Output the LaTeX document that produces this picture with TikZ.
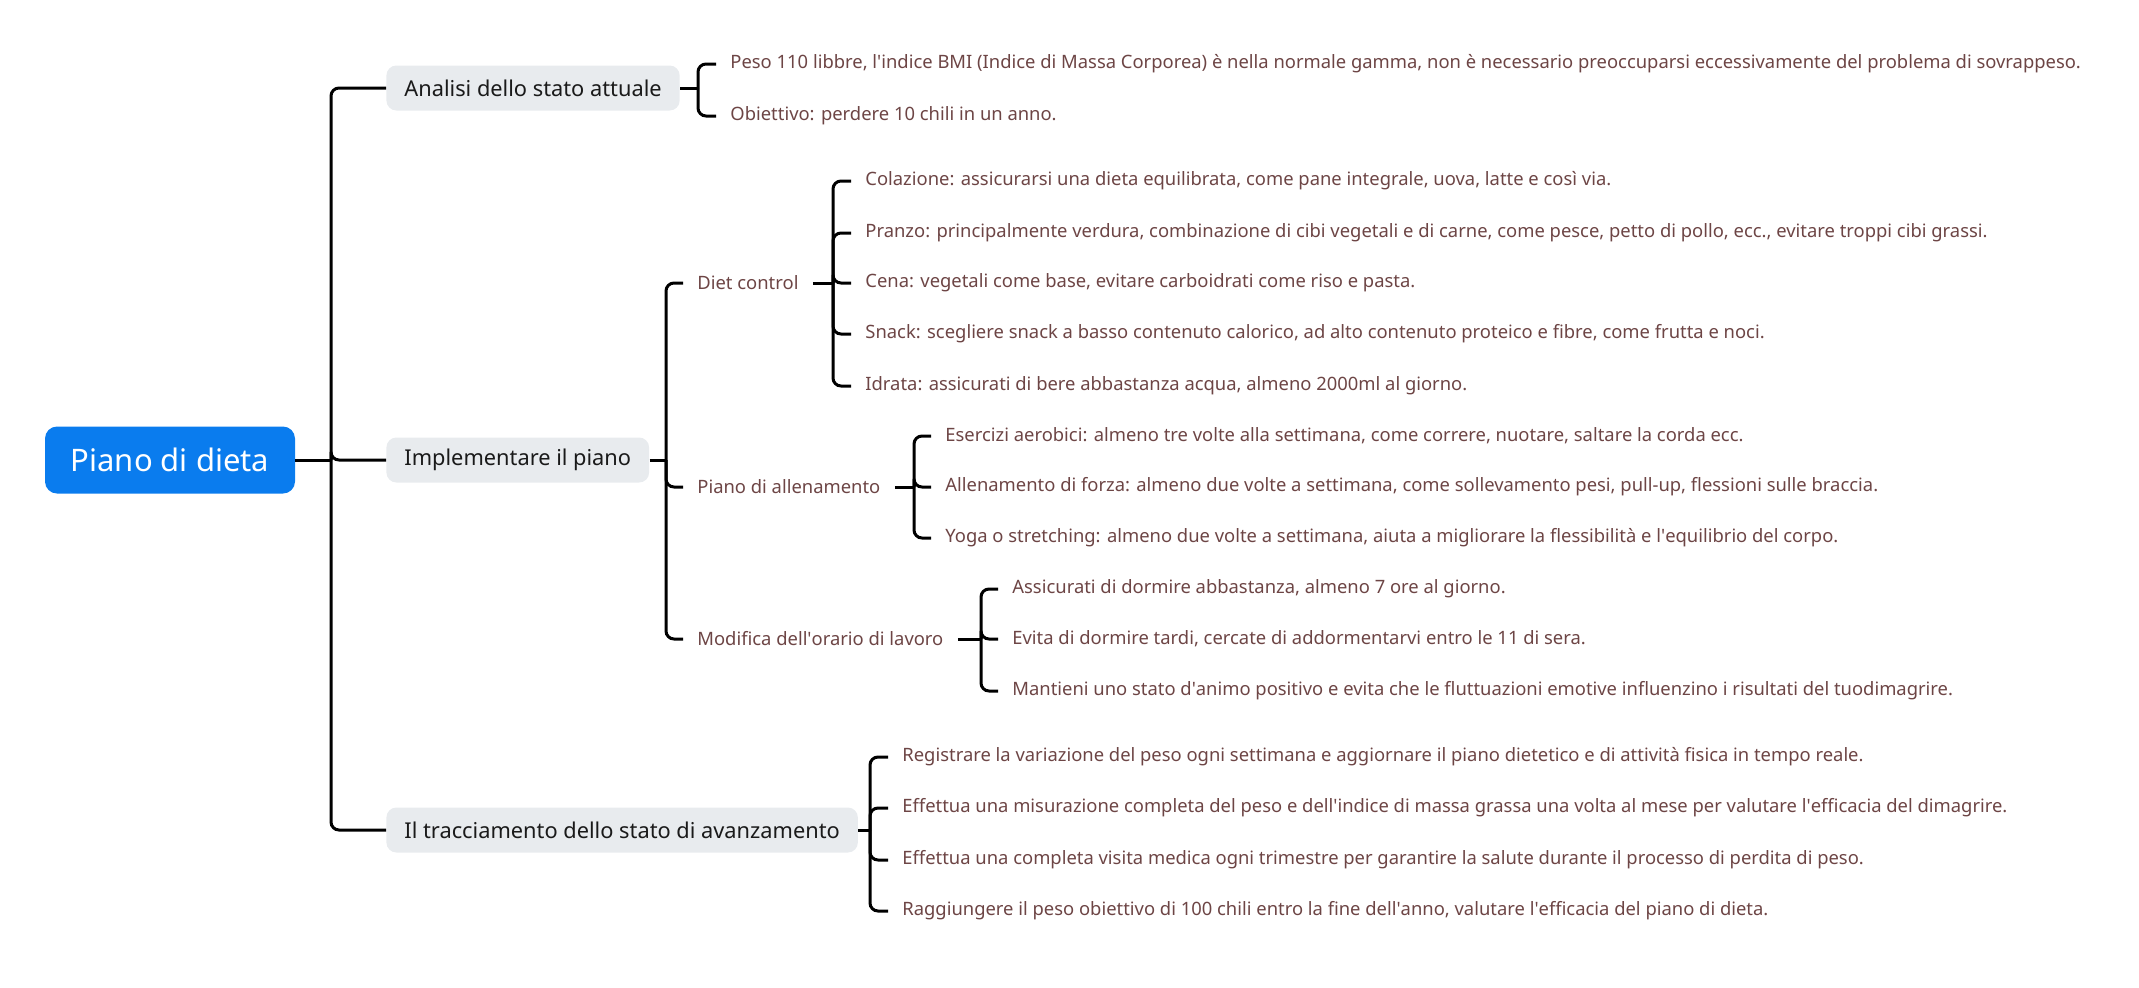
\documentclass[tikz,border=0pt]{standalone}
\usepackage{fontspec}
\setmainfont{Noto Sans}
\definecolor{rootblue}{HTML}{0A7CEE}
\definecolor{boxgray}{HTML}{E8EBEE}
\definecolor{leaftext}{HTML}{6D4545}
\definecolor{maintext}{HTML}{1A1A1A}
\newcommand{\ap}{\textquotesingle}
\begin{document}
\begin{tikzpicture}[x=0.5pt,y=-0.5pt,
  rootbox/.style={fill=rootblue,text=white,rounded corners=6pt,minimum width=125pt,minimum height=33.5pt,inner sep=0pt,font=\fontsize{15.5pt}{18pt}\selectfont},
  topicbox/.style={fill=boxgray,text=maintext,rounded corners=5pt,anchor=west,minimum height=22.5pt,inner xsep=9pt,inner ysep=0pt,font=\fontsize{10.9pt}{13pt}\selectfont},
  leaf/.style={anchor=west,text=leaftext,inner xsep=7pt,inner ysep=2pt,font=\fontsize{9.2pt}{11pt}\selectfont},
  conn/.style={draw=black,line width=1.5pt},
  elbow/.style={conn,rounded corners=4pt}
]
\useasboundingbox (0,0) rectangle (2139,987);

% root
\node[rootbox] (root) at (170,460) {Piano di dieta};

% level 1
\node[topicbox] (a1) at (386,88) {Analisi dello stato attuale};
\node[topicbox] (a2) at (386,460) {Implementare il piano};
\node[topicbox] (a3) at (386,830) {Il tracciamento dello stato di avanzamento};

\coordinate (s) at (331,460);
\draw[conn] (root.east) -- (s);
\draw[elbow] (s) |- (a1.west);
\draw[elbow] (s) |- (a2.west);
\draw[elbow] (s) |- (a3.west);

% Analisi
\node[leaf] (a11) at (716,64) {Peso 110 libbre, l\ap indice BMI (Indice di Massa Corporea) è nella normale gamma, non è necessario preoccuparsi eccessivamente del problema di sovrappeso.};
\node[leaf] (a12) at (716,116) {Obiettivo: perdere 10 chili in un anno.};
\coordinate (b1) at (698,88);
\draw[conn] (a1.east) -- (b1);
\draw[elbow] (b1) |- (a11.west);
\draw[elbow] (b1) |- (a12.west);

% Implementare
\node[leaf] (d) at (683,283) {Diet control};
\node[leaf] (p) at (683,487) {Piano di allenamento};
\node[leaf] (m) at (683,639) {Modifica dell\ap orario di lavoro};
\coordinate (b2) at (666,460);
\draw[conn] (a2.east) -- (b2);
\draw[elbow] (b2) |- (d.west);
\draw[elbow] (b2) |- (p.west);
\draw[elbow] (b2) |- (m.west);

% Diet control
\node[leaf] (d1) at (851,181) {Colazione: assicurarsi una dieta equilibrata, come pane integrale, uova, latte e così via.};
\node[leaf] (d2) at (851,233) {Pranzo: principalmente verdura, combinazione di cibi vegetali e di carne, come pesce, petto di pollo, ecc., evitare troppi cibi grassi.};
\node[leaf] (d3) at (851,283) {Cena: vegetali come base, evitare carboidrati come riso e pasta.};
\node[leaf] (d4) at (851,334) {Snack: scegliere snack a basso contenuto calorico, ad alto contenuto proteico e fibre, come frutta e noci.};
\node[leaf] (d5) at (851,386) {Idrata: assicurati di bere abbastanza acqua, almeno 2000ml al giorno.};
\coordinate (b21) at (833,283);
\draw[conn] (d.east) -- (b21);
\foreach \c in {d1,d2,d3,d4,d5} \draw[elbow] (b21) |- (\c.west);

% Piano di allenamento
\node[leaf] (p1) at (931,436) {Esercizi aerobici: almeno tre volte alla settimana, come correre, nuotare, saltare la corda ecc.};
\node[leaf] (p2) at (931,487) {Allenamento di forza: almeno due volte a settimana, come sollevamento pesi, pull-up, flessioni sulle braccia.};
\node[leaf] (p3) at (931,538) {Yoga o stretching: almeno due volte a settimana, aiuta a migliorare la flessibilità e l\ap equilibrio del corpo.};
\coordinate (b22) at (914,487);
\draw[conn] (p.east) -- (b22);
\foreach \c in {p1,p2,p3} \draw[elbow] (b22) |- (\c.west);

% Modifica
\node[leaf] (m1) at (998,589) {Assicurati di dormire abbastanza, almeno 7 ore al giorno.};
\node[leaf] (m2) at (998,639) {Evita di dormire tardi, cercate di addormentarvi entro le 11 di sera.};
\node[leaf] (m3) at (998,691) {Mantieni uno stato d\ap animo positivo e evita che le fluttuazioni emotive influenzino i risultati del tuodimagrire.};
\coordinate (b23) at (981,639);
\draw[conn] (m.east) -- (b23);
\foreach \c in {m1,m2,m3} \draw[elbow] (b23) |- (\c.west);

% Tracciamento
\node[leaf] (t1) at (888,757) {Registrare la variazione del peso ogni settimana e aggiornare il piano dietetico e di attività fisica in tempo reale.};
\node[leaf] (t2) at (888,808) {Effettua una misurazione completa del peso e dell\ap indice di massa grassa una volta al mese per valutare l\ap efficacia del dimagrire.};
\node[leaf] (t3) at (888,860) {Effettua una completa visita medica ogni trimestre per garantire la salute durante il processo di perdita di peso.};
\node[leaf] (t4) at (888,911) {Raggiungere il peso obiettivo di 100 chili entro la fine dell\ap anno, valutare l\ap efficacia del piano di dieta.};
\coordinate (b3) at (870,830);
\draw[conn] (a3.east) -- (b3);
\foreach \c in {t1,t2,t3,t4} \draw[elbow] (b3) |- (\c.west);
\end{tikzpicture}
\end{document}
